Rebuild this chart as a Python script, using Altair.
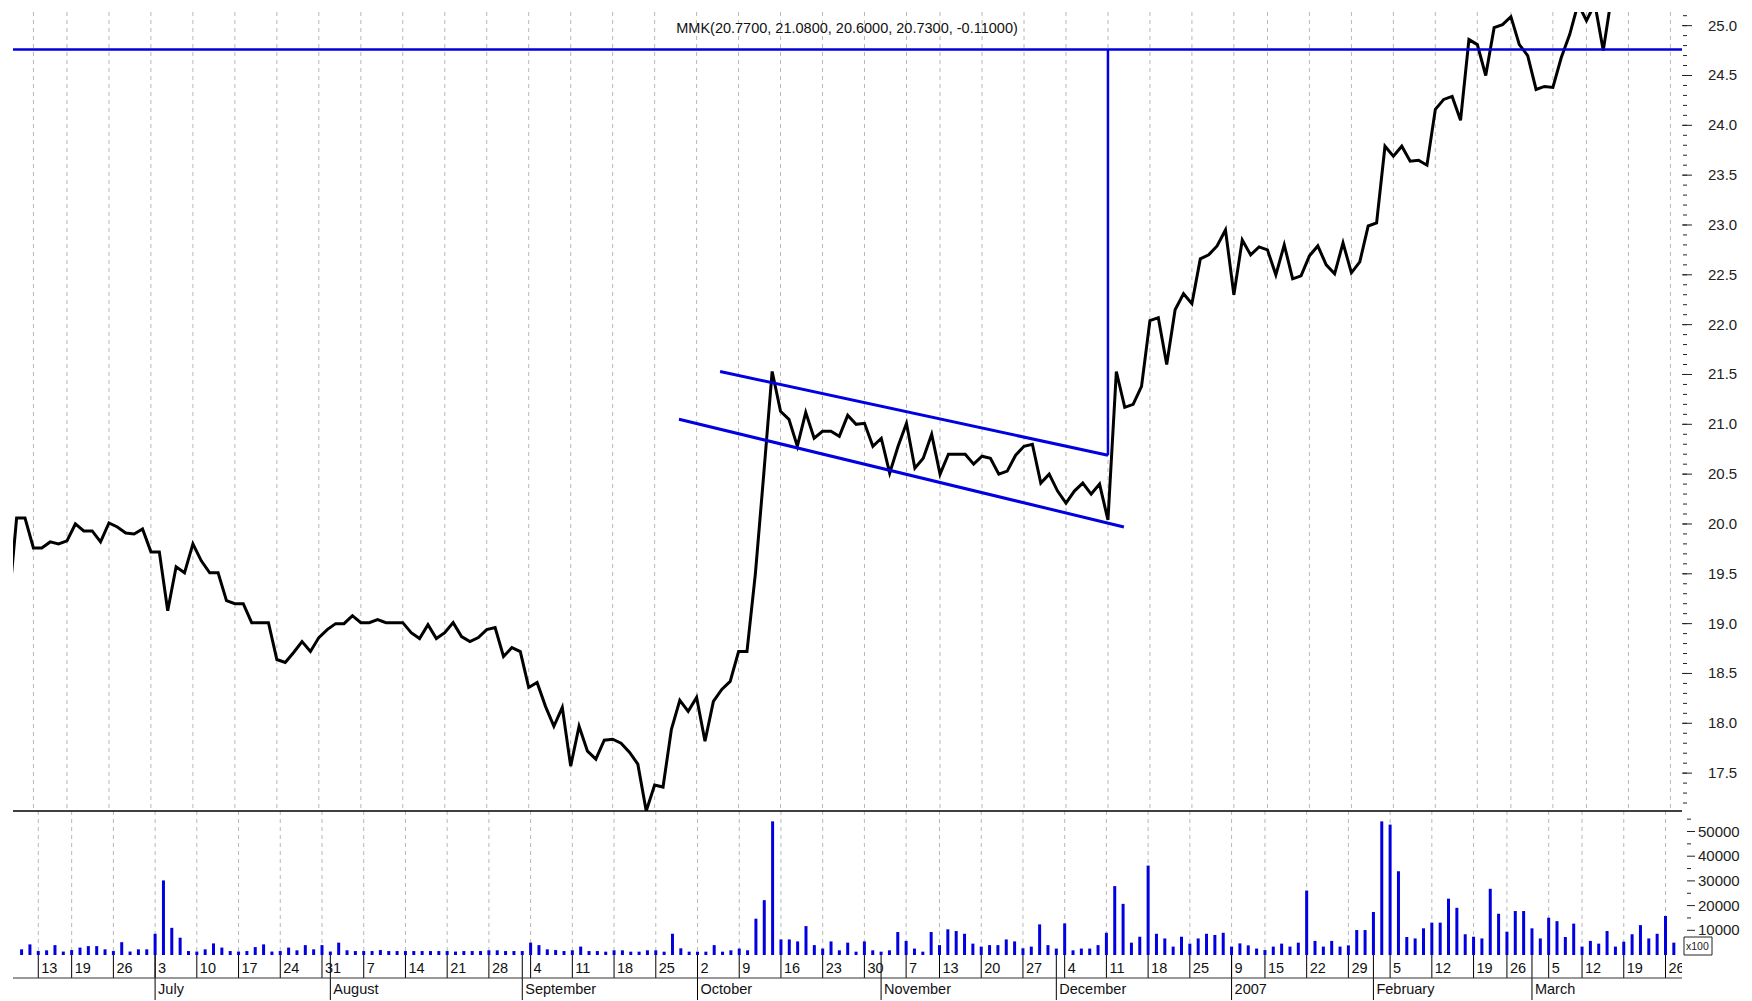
import altair as alt
import pandas as pd

# ---------------- data ----------------
# daily close, trading-day index 0 .. 191 (index 0 = 7 Jun 2006, 3 = 13 Jun 2006)
close = [
    19.13, 20.06, 20.06, 19.76, 19.76, 19.82, 19.80, 19.83, 20.00, 19.93,
    19.93, 19.82, 20.01, 19.97, 19.91, 19.90, 19.95, 19.72, 19.72, 19.13,
    19.57, 19.51, 19.80, 19.63, 19.51, 19.51, 19.23, 19.20, 19.20, 19.01,
    19.01, 19.01, 18.64, 18.61, 18.71, 18.82, 18.72, 18.86, 18.94, 19.00,
    19.00, 19.08, 19.01, 19.01, 19.04, 19.01, 19.01, 19.01, 18.91, 18.85,
    18.99, 18.85, 18.91, 19.01, 18.87, 18.82, 18.86, 18.94, 18.96, 18.67,
    18.76, 18.72, 18.36, 18.41, 18.17, 17.97, 18.16, 17.57, 17.97, 17.72,
    17.64, 17.83, 17.84, 17.80, 17.71, 17.59, 17.12, 17.38, 17.36, 17.94,
    18.23, 18.12, 18.26, 17.82, 18.22, 18.34, 18.42, 18.72, 18.72, 19.50,
    20.50, 21.53, 21.13, 21.05, 20.78, 21.12, 20.86, 20.93, 20.93, 20.88,
    21.09, 21.00, 21.01, 20.78, 20.86, 20.51, 20.78, 21.01, 20.56, 20.66,
    20.90, 20.50, 20.70, 20.70, 20.70, 20.60, 20.68, 20.66, 20.50, 20.53,
    20.69, 20.78, 20.80, 20.41, 20.50, 20.33, 20.21, 20.33, 20.41, 20.30,
    20.40, 20.04, 21.53, 21.17, 21.20, 21.38, 22.04, 22.07, 21.60, 22.15,
    22.31, 22.21, 22.66, 22.70, 22.79, 22.95, 22.30, 22.85, 22.70, 22.78,
    22.75, 22.50, 22.80, 22.46, 22.49, 22.69, 22.79, 22.60, 22.51, 22.82,
    22.52, 22.63, 22.99, 23.02, 23.79, 23.69, 23.79, 23.64, 23.65, 23.60,
    24.16, 24.26, 24.29, 24.05, 24.86, 24.81, 24.50, 24.98, 25.01, 25.09,
    24.81, 24.70, 24.36, 24.39, 24.38, 24.68, 24.91, 25.22, 25.05, 25.22,
    24.75, 25.30,
]

# daily volume (x100), trading-day index 1 .. 199
volume = [
    2300, 4300, 1600, 1900, 4000, 1400, 2000, 3000, 3600, 3600,
    2300, 1600, 5200, 1400, 2300, 2300, 8600, 30200, 11000, 7000,
    1600, 1400, 2300, 4700, 3000, 1600, 1400, 1600, 3200, 4300,
    1400, 1600, 3000, 1900, 4000, 2300, 4000, 1400, 5000, 1900,
    1600, 1600, 1600, 2000, 1600, 1600, 1600, 1600, 1600, 1600,
    1600, 1600, 1400, 1600, 1600, 1600, 1900, 1900, 1600, 1600,
    1600, 5000, 4000, 2300, 2000, 1600, 1900, 3400, 1600, 1600,
    1350, 1900, 1900, 1350, 1350, 1900, 1900, 1350, 8600, 2700,
    1350, 1350, 1350, 4000, 1350, 1900, 2600, 1900, 14700, 22200,
    54100, 6300, 6300, 5500, 11700, 4000, 2600, 5500, 1900, 5000,
    1350, 5500, 1900, 1350, 1900, 9300, 5700, 2600, 1350, 9300,
    4000, 10400, 9700, 8600, 4600, 3400, 4000, 4000, 6300, 5500,
    2700, 3400, 12400, 4000, 2600, 12800, 1900, 2600, 2600, 4000,
    9000, 27900, 20700, 5000, 7400, 36200, 8600, 6700, 3400, 7400,
    4600, 6700, 8600, 8100, 9000, 3400, 4700, 3900, 2600, 2000,
    3400, 4600, 3400, 5000, 26100, 5700, 3400, 5700, 3400, 3900,
    10100, 10100, 17400, 54100, 52800, 33900, 7300, 6700, 10800, 13100,
    13100, 22800, 19100, 8400, 7400, 6700, 26800, 16700, 9400, 17800,
    17800, 10800, 6700, 15100, 13700, 7300, 12700, 3400, 5700, 4600,
    9700, 3400, 5400, 8400, 12100, 6700, 8600, 15800, 5000,
]

# weekly date labels (first trading day of each week) and month labels
week_idx = [3, 7, 12, 17, 22, 27, 32, 37, 42, 47, 52, 57, 62, 67, 72, 77, 82, 87, 92, 97,
            102, 107, 111, 116, 121, 126, 131, 136, 141, 146, 150, 155, 160, 165, 170, 175,
            179, 184, 188, 193, 198]
week_lbl = ["13", "19", "26", "3", "10", "17", "24", "31", "7", "14", "21", "28", "4", "11",
            "18", "25", "2", "9", "16", "23", "30", "7", "13", "20", "27", "4", "11", "18",
            "25", "9", "15", "22", "29", "5", "12", "19", "26", "5", "12", "19", "26"]
month_idx = [17, 38, 61, 82, 104, 125, 146, 163, 182]
month_lbl = ["July", "August", "September", "October", "November", "December",
             "2007", "February", "March"]

# drawn trend channel (start index, start price, end index, end price)
chan_i1 = [84.8, 79.9]
chan_v1 = [21.53, 21.05]
chan_i2 = [131.0, 132.9]
chan_v2 = [20.69, 19.97]
target_level = 24.76
breakout_idx = 131
breakout_from = 20.69

title_text = "MMK(20.7700, 21.0800, 20.6000, 20.7300, -0.11000)"

price_major = [17.5, 18.0, 18.5, 19.0, 19.5, 20.0, 20.5, 21.0, 21.5, 22.0, 22.5,
               23.0, 23.5, 24.0, 24.5, 25.0]
price_minor = [round(17.2 + 0.1 * k, 1) for k in range(80)]
vol_major = [10000, 20000, 30000, 40000, 50000]
vol_minor = [5000, 15000, 25000, 35000, 45000, 55000]

# ---------------- layout / style ----------------
W = 1669
H1 = 799
H2 = 189
VOLPX = 144
DAYLINE = 167
FONT = "Liberation Sans, Arial, Helvetica, sans-serif"
FS = 14.5
FSA = 15
BLUE = "#0000e0"
GRID = "#b8b8b8"

xs = alt.Scale(domain=[0.57, 199.38], nice=False, zero=False)
ys_price = alt.Scale(domain=[17.12, 25.137], nice=False, zero=False)
ys_vol = alt.Scale(domain=[0, 58300], range=[VOLPX, 0], nice=False, zero=False)

one = pd.DataFrame({"k": [0]})
df_price = pd.DataFrame({"i": list(range(len(close))), "v": close})
df_vol = pd.DataFrame({"i": list(range(1, len(volume) + 1)), "vol": volume})
df_week = pd.DataFrame({"i": week_idx, "lbl": week_lbl})
df_month = pd.DataFrame({"i": month_idx, "lbl": month_lbl})
df_chan = pd.DataFrame({"i1": chan_i1, "v1": chan_v1, "i2": chan_i2, "v2": chan_v2})

X = lambda f: alt.X(f, scale=xs, axis=None)
YP = lambda f: alt.Y(f, scale=ys_price, axis=None)
YV = lambda f: alt.Y(f, scale=ys_vol, axis=None)

# ---------- price panel ----------
grid1 = alt.Chart(df_week).mark_rule(color=GRID, strokeDash=[4, 4], strokeWidth=1).encode(
    x=X("i:Q"))
line = alt.Chart(df_price).mark_line(color="black", strokeWidth=3, clip=True).encode(
    x=X("i:Q"), y=YP("v:Q"))
chan = alt.Chart(df_chan).mark_rule(color=BLUE, strokeWidth=3).encode(
    x=X("i1:Q"), x2="i2:Q", y=YP("v1:Q"), y2="v2:Q")
hline = alt.Chart(pd.DataFrame({"v": [target_level]})).mark_rule(color=BLUE, strokeWidth=2.5).encode(
    y=YP("v:Q"))
vline = alt.Chart(pd.DataFrame({"i": [breakout_idx], "a": [breakout_from], "b": [target_level]})
                  ).mark_rule(color=BLUE, strokeWidth=2.5).encode(x=X("i:Q"), y=YP("a:Q"), y2="b:Q")
title = alt.Chart(pd.DataFrame({"t": [title_text]})).mark_text(
    font=FONT, fontSize=FS, align="center", baseline="alphabetic", color="#111").encode(
    x=alt.value(834), y=alt.value(21), text="t:N")
pmaj = alt.Chart(pd.DataFrame({"v": price_major})).mark_rule(color="#222", strokeWidth=1).encode(
    y=YP("v:Q"), x=alt.value(W), x2=alt.value(W + 10))
pmin = alt.Chart(pd.DataFrame({"v": price_minor})).mark_rule(color="#222", strokeWidth=1).encode(
    y=YP("v:Q"), x=alt.value(W + 1), x2=alt.value(W + 5))
plab = alt.Chart(pd.DataFrame({"v": price_major, "t": [f"{p:.1f}" for p in price_major]})).mark_text(
    font=FONT, fontSize=FSA, align="left", baseline="middle", color="#222").encode(
    y=YP("v:Q"), x=alt.value(W + 26), text="t:N")

price = alt.layer(grid1, line, chan, hline, vline, title, pmaj, pmin, plab).properties(
    width=W, height=H1)

# ---------- volume panel + date axis ----------
grid2 = alt.Chart(df_week).mark_rule(color=GRID, strokeDash=[4, 4], strokeWidth=1).encode(
    x=X("i:Q"), y=alt.value(0), y2=alt.value(VOLPX))
bars = alt.Chart(df_vol).mark_bar(size=3, color=BLUE, clip=True).encode(
    x=X("i:Q"), y=YV("vol:Q"))
topline = alt.Chart(one).mark_rule(color="black", strokeWidth=1.5).encode(
    x=alt.value(0), x2=alt.value(W), y=alt.value(0))
daytick = alt.Chart(df_week).mark_rule(color="black", strokeWidth=1).encode(
    x=X("i:Q"), y=alt.value(VOLPX), y2=alt.value(DAYLINE))
montick = alt.Chart(df_month).mark_rule(color="black", strokeWidth=1).encode(
    x=X("i:Q"), y=alt.value(VOLPX), y2=alt.value(H2))
sep = alt.Chart(one).mark_rule(color="#333", strokeWidth=1).encode(
    x=alt.value(0), x2=alt.value(W), y=alt.value(DAYLINE))
daylab = alt.Chart(df_week).mark_text(font=FONT, fontSize=FS, align="left", baseline="alphabetic",
                                      dx=3, color="#111", clip=True).encode(
    x=X("i:Q"), y=alt.value(162), text="lbl:N")
monlab = alt.Chart(df_month).mark_text(font=FONT, fontSize=FS, align="left", baseline="alphabetic",
                                       dx=3, color="#111").encode(
    x=X("i:Q"), y=alt.value(183), text="lbl:N")
vmaj = alt.Chart(pd.DataFrame({"v": vol_major})).mark_rule(color="#222", strokeWidth=1).encode(
    y=YV("v:Q"), x=alt.value(W + 5), x2=alt.value(W + 13))
vmin = alt.Chart(pd.DataFrame({"v": vol_minor})).mark_rule(color="#222", strokeWidth=1).encode(
    y=YV("v:Q"), x=alt.value(W + 5), x2=alt.value(W + 9))
vlab = alt.Chart(pd.DataFrame({"v": vol_major, "t": [str(v) for v in vol_major]})).mark_text(
    font=FONT, fontSize=FSA, align="left", baseline="middle", color="#222").encode(
    y=YV("v:Q"), x=alt.value(W + 16), text="t:N")
unitbox = alt.Chart(one).mark_rect(fill="white", stroke="#222", strokeWidth=1).encode(
    x=alt.value(W + 2), x2=alt.value(W + 30), y=alt.value(VOLPX - 18), y2=alt.value(VOLPX))
unittxt = alt.Chart(pd.DataFrame({"t": ["x100"]})).mark_text(
    font=FONT, fontSize=10.5, align="left", baseline="alphabetic", color="#222").encode(
    x=alt.value(W + 4), y=alt.value(VOLPX - 5), text="t:N")

vol = alt.layer(grid2, bars, topline, daytick, montick, sep, daylab, monlab,
                vmaj, vmin, vlab, unitbox, unittxt).properties(width=W, height=H2)

chart = alt.vconcat(price, vol, spacing=0, bounds="flush").properties(
    padding={"left": 3, "top": 3, "right": 4, "bottom": 0}
).configure_view(strokeWidth=0)

chart.save("out.html", embed_options={"renderer": "svg", "actions": False})
